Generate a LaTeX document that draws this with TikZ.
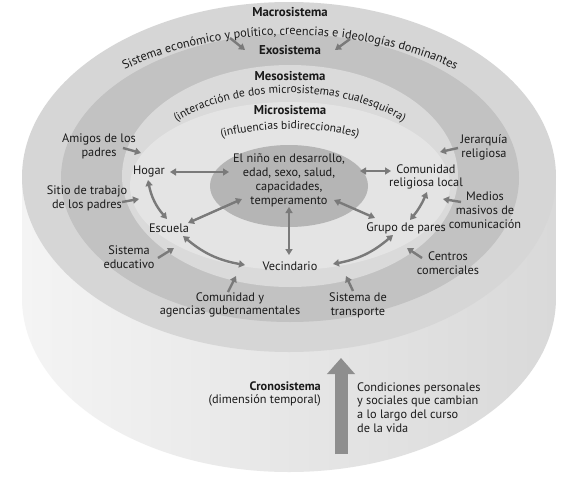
\documentclass[tikz,border=0pt]{standalone}
\usepackage{fontspec}
\setmainfont{PT Sans}
\usetikzlibrary{shapes.geometric,arrows.meta,decorations.text}
\definecolor{macroC}{HTML}{D6D6D6}
\definecolor{exoC}{HTML}{C2C2C2}
\definecolor{mesoC}{HTML}{DADADA}
\definecolor{microC}{HTML}{E4E4E4}
\definecolor{coreC}{HTML}{B5B5B5}
\definecolor{arrC}{HTML}{7A7A7A}
\definecolor{bigArrC}{HTML}{8E8E8E}
\definecolor{sideL}{HTML}{F4F4F4}
\definecolor{sideM}{HTML}{EAEAEA}
\definecolor{sideR}{HTML}{D9D9D9}
\definecolor{txtC}{HTML}{1A1A1A}
\newcommand\lblfont{\fontsize{12.3}{13.8}\selectfont}
\newcommand\crvfont{\fontsize{11.6}{13}\selectfont}
\newcommand\ttlfont{\fontsize{12.8}{14}\selectfont\bfseries}
\begin{document}
\begin{tikzpicture}[x=1pt,y=-1pt,
  lbl/.style={font=\lblfont, align=center, inner sep=1pt, text=txtC},
  ttl/.style={font=\ttlfont, inner sep=1pt, text=txtC},
  tipA/.tip={Triangle[length=6pt,width=7pt]},
  onearr/.style={draw=arrC, line width=2.4pt, -tipA},
  twoarr/.style={draw=arrC, line width=2.4pt, tipA-tipA},
  bigarr/.style={draw=bigArrC, line width=13pt, -{Triangle[length=16pt,width=27pt]}},
  curvetext/.style={decorate, decoration={text along path, text align=center, text color=txtC}}
]
\useasboundingbox (0,0) rectangle (579,480);
\fill[white] (0,0) rectangle (579,480);
% cylinder side
\shade[left color=sideL, middle color=sideM, right color=sideR]
  (22,177) -- (22,298) arc[start angle=180, end angle=360, x radius=267pt, y radius=174pt] -- (556,177) -- cycle;
% top face rings
\fill[macroC] (289,177) ellipse[x radius=267pt, y radius=175pt];
\fill[exoC] (290,178) ellipse[x radius=229pt, y radius=144pt];
\fill[mesoC] (290,176) ellipse[x radius=168pt, y radius=111pt];
\fill[microC] (290,186) ellipse[x radius=160pt, y radius=84pt];
\node[ellipse, fill=coreC, minimum width=158pt, minimum height=82pt, inner sep=0pt] (nino) at (289,186) {};
\node[lbl] (ninotxt) at (289,180.5) {El niño en desarrollo,\\edad, sexo, salud,\\capacidades,\\temperamento};

% titles
\node[ttl] (macro) at (290,12) {Macrosistema};
\node[ttl] (exo) at (290,50) {Exosistema};
\node[ttl] (meso) at (290,76) {Mesosistema};
\node[ttl] (micro) at (290,110) {Microsistema};

% curved texts (canvas coordinates, y upward)
\begin{scope}[y=1pt]
\path[curvetext, decoration={text={|\lblfont|Sistema económico y político, creencias e ideologías dominantes}}]
  (97.0,-85.7) arc[start angle=140, end angle=40, x radius=252pt, y radius=142pt];
\path[curvetext, decoration={text={|\crvfont|(interacción de dos microsistemas cualesquiera)}}]
  (149.0,-148.3) arc[start angle=160, end angle=20, x radius=150pt, y radius=84pt];
\path[curvetext, decoration={text={|\crvfont|(influencias bidireccionales)}}]
  (177.2,-160.6) arc[start angle=160, end angle=20, x radius=120pt, y radius=48pt];
\end{scope}

% microsystem nodes
\node[lbl] (hogar) at (149,171) {Hogar};
\node[lbl] (escuela) at (169,228) {Escuela};
\node[lbl] (vecindario) at (290,266) {Vecindario};
\node[lbl] (grupo) at (406,228) {Grupo de pares};
\node[lbl] (comrel) at (426,177) {Comunidad\\religiosa local};

% exosystem nodes
\node[lbl] (amigos) at (99,146) {Amigos de los\\padres};
\node[lbl] (sitio) at (87,198) {Sitio de trabajo\\de los padres};
\node[lbl] (sisedu) at (129,257) {Sistema\\educativo};
\node[lbl] (comag) at (230,305) {Comunidad y\\agencias gubernamentales};
\node[lbl] (sistrans) at (358,305) {Sistema de\\transporte};
\node[lbl] (centros) at (448,263) {Centros\\comerciales};
\node[lbl] (medios) at (485,210) {Medios\\masivos de\\comunicación};
\node[lbl] (jerarq) at (484,147) {Jerarquía\\religiosa};

% chronosystem
\node[lbl, align=right, anchor=east] (crono) at (322,394) {\textbf{Cronosistema}\\(dimensión temporal)};
\node[lbl, align=left, anchor=west] (condic) at (356,407.5) {Condiciones personales\\y sociales que cambian\\a lo largo del curso\\de la vida};

% connector end coordinates
\coordinate (exoL) at (245,50);
\coordinate (exoR) at (335,50);
\coordinate (exoLs) at (230,38);
\coordinate (exoRs) at (350,39);
\coordinate (tAmigos) at (141,153);
\coordinate (tSitio) at (139,199);
\coordinate (tSisedu) at (174,248);
\coordinate (tComag) at (236,276);
\coordinate (tTrans) at (346,276);
\coordinate (tCentros) at (407,248);
\coordinate (tMedios) at (443,199);
\coordinate (tJerarq) at (440,152);
\coordinate (nW) at (229,172);
\coordinate (nE) at (360,171);
\coordinate (nSW) at (242,199);
\coordinate (nS) at (289,207);
\coordinate (nSE) at (334,200);
\coordinate (chrB) at (341,454);
\coordinate (chrT) at (341,358);

% outer arrows
\draw[onearr] (exoLs) -- (exoL);
\draw[onearr] (exoRs) -- (exoR);
\draw[onearr] ([shift={(24,2)}]amigos.center) -- (tAmigos);
\draw[onearr] ([shift={(35,4)}]sitio.center) -- (tSitio);
\draw[onearr] ([shift={(29,1)}]sisedu.center) -- (tSisedu);
\draw[onearr] ([shift={(-2,-13)}]comag.center) -- (tComag);
\draw[onearr] ([shift={(-5,-14)}]sistrans.center) -- (tTrans);
\draw[onearr] ([shift={(-26,-5)}]centros.center) -- (tCentros);
\draw[onearr] ([shift={(-24,-8)}]medios.center) -- (tMedios);
\draw[onearr] ([shift={(-26,1)}]jerarq.center) -- (tJerarq);

% inner bidirectional arrows
\draw[twoarr] ([shift={(21,1)}]hogar.center) -- (nW);
\draw[twoarr] (nE) -- ([shift={(-35,-6)}]comrel.center);
\draw[twoarr] ([shift={(-1,9)}]hogar.center) to[bend right=15] ([shift={(-2,-9)}]escuela.center);
\draw[twoarr] ([shift={(19,-5)}]escuela.center) -- (nSW);
\draw[twoarr] ([shift={(14,8)}]escuela.center) to[bend right=15] ([shift={(-45,-1)}]vecindario.center);
\draw[twoarr] (nS) -- ([shift={(-1,-11)}]vecindario.center);
\draw[twoarr] ([shift={(43,-2)}]vecindario.center) to[bend right=15] ([shift={(-13,7)}]grupo.center);
\draw[twoarr] (nSE) -- ([shift={(-31,-10)}]grupo.center);
\draw[twoarr] ([shift={(4,-8)}]grupo.center) to[bend right=8] ([shift={(1,15)}]comrel.center);

% chronosystem arrow
\draw[bigarr] (chrB) -- (chrT);
\end{tikzpicture}
\end{document}
